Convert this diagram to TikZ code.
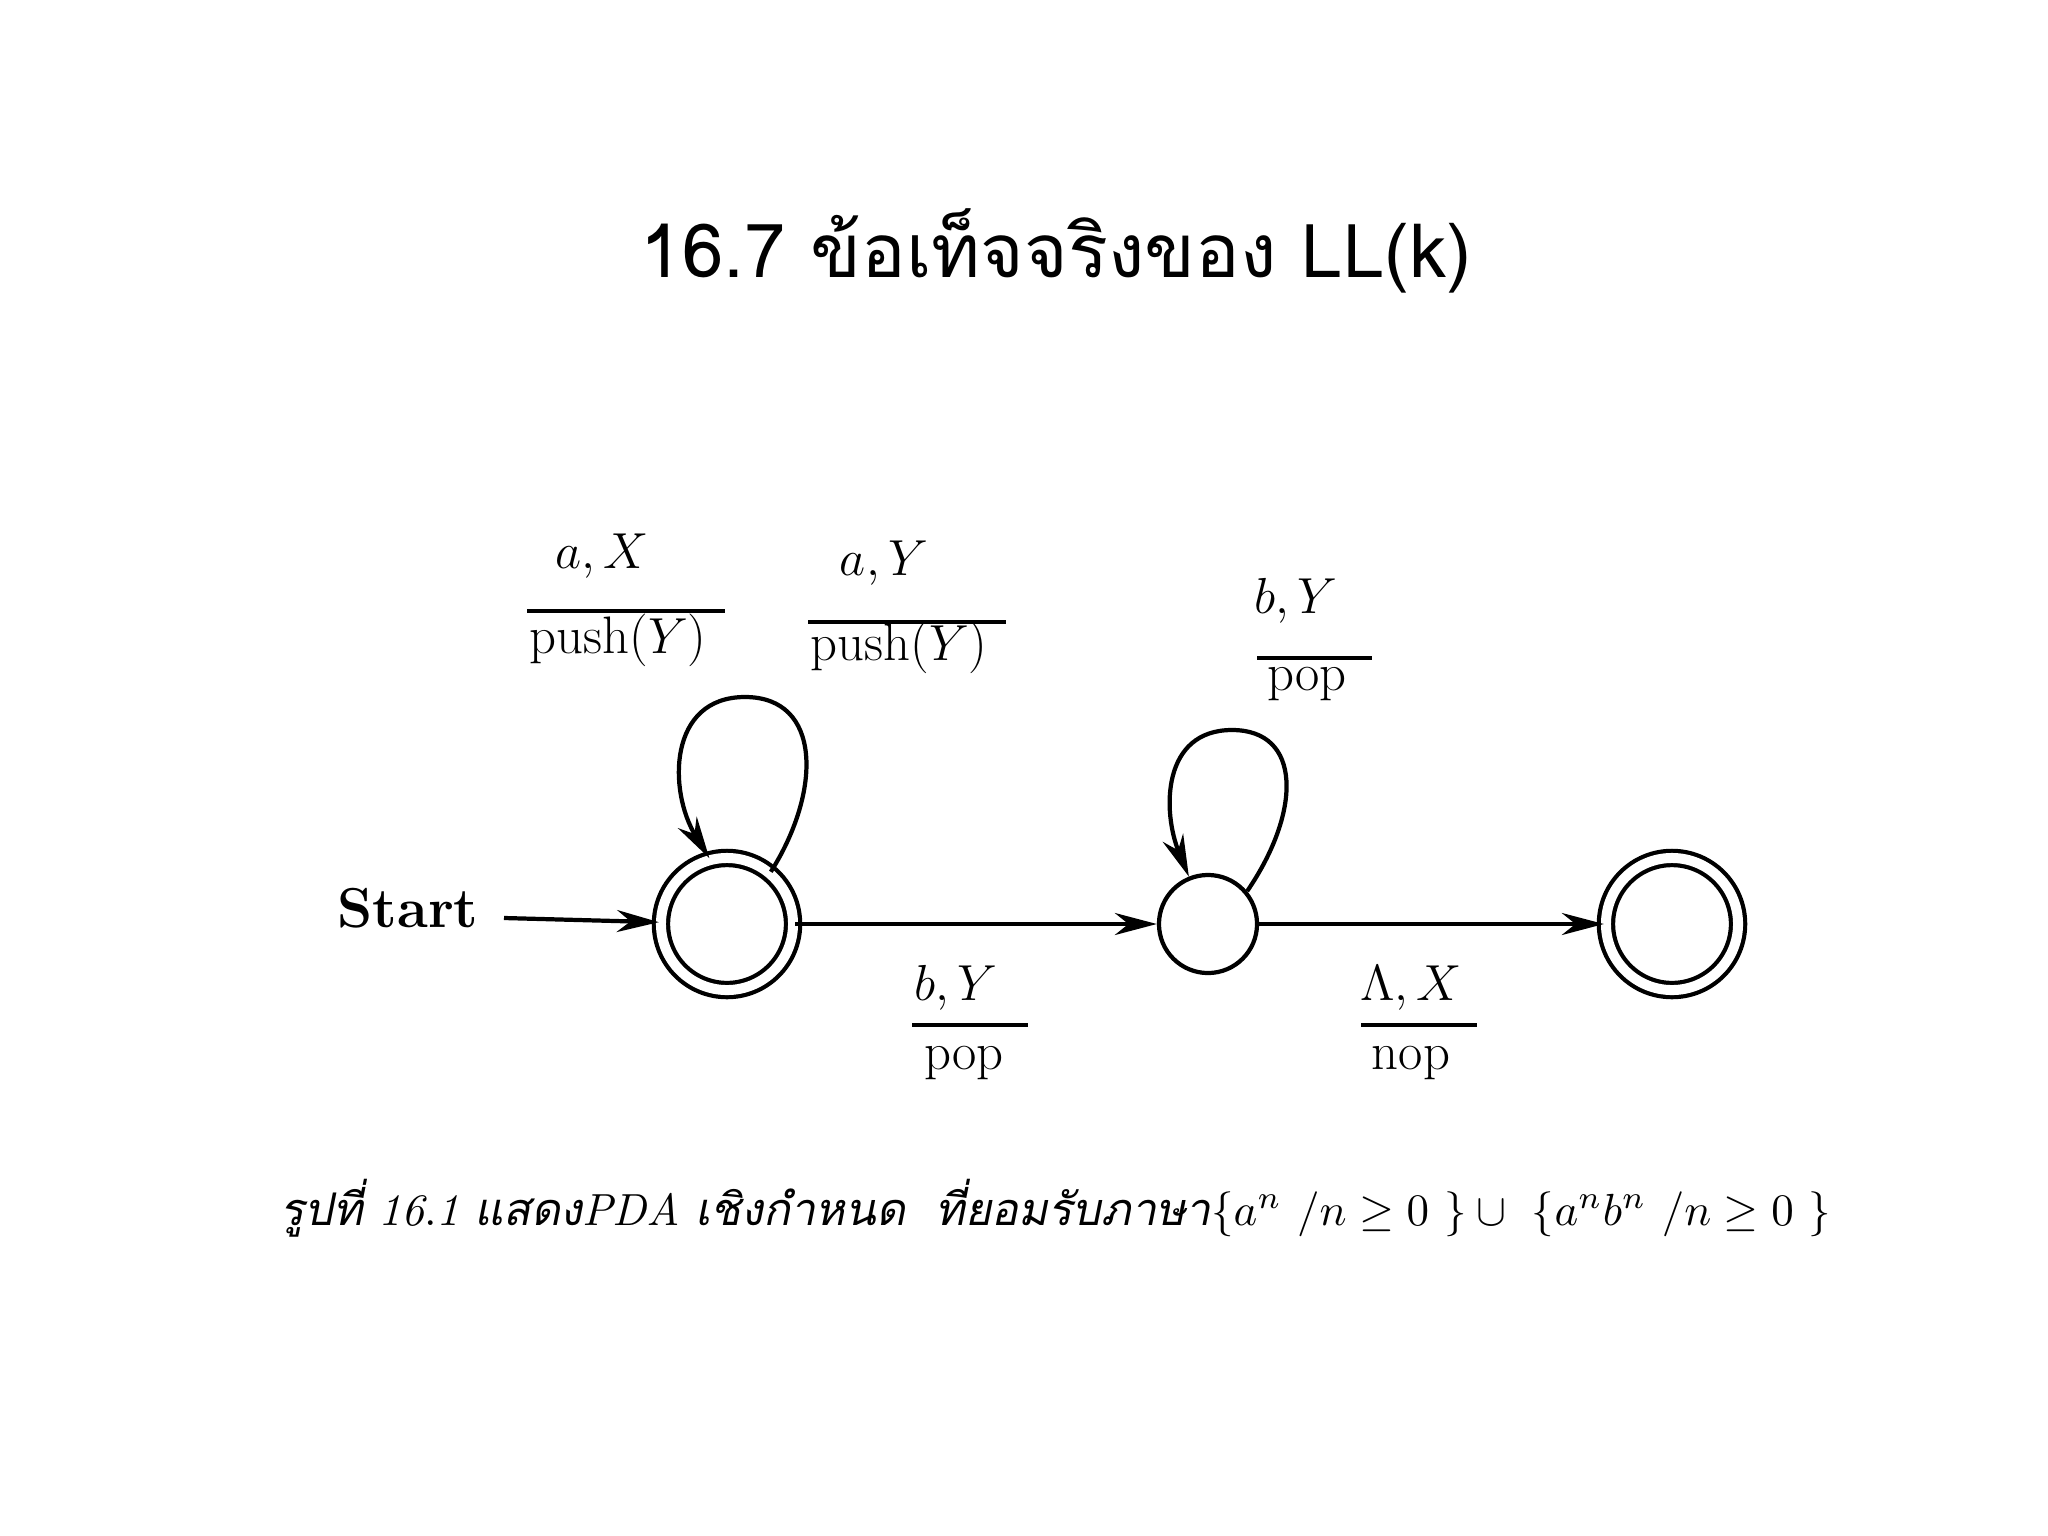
\documentclass[tikz,border=0pt]{standalone}
\usepackage{fontspec}
\usetikzlibrary{arrows.meta}
\newfontfamily\thaifont[Script=Thai]{Loma}
\newfontfamily\thaislant[Script=Thai,FakeSlant=0.2]{Loma}
\begin{document}
\begin{tikzpicture}[x=0.01cm,y=-0.01cm,
  st/.style={circle,draw,line width=1.2pt,minimum size=0.98cm,inner sep=0pt},
  acc/.style={st,double,double distance=0.1cm,minimum size=1.32cm},
  edge/.style={line width=1.2pt,-{Stealth[length=0.42cm,width=0.22cm]}},
  lab/.style={font=\fontsize{15}{17}\selectfont,inner sep=1pt},
  bar/.style={line width=1.3pt}]
\useasboundingbox[fill=white] (0,0) rectangle (2048,1536);
\node[font=\thaifont] (title) at (1056,251) {\resizebox{8.3cm}{!}{16.7 ข้อเท็จจริงของ LL(k)}};
\begin{scope}[shift={(-8,-9)}]
\node[acc] (q0) at (735,933) {};
\node[st] (q1) at (1216,933) {};
\node[acc] (q2) at (1680,933) {};
\node[font=\fontsize{16}{18}\selectfont\bfseries] (start) at (416,917) {Start};
\coordinate (s0) at (512,927);
\draw[edge] (s0) -- (q0);
\draw[edge] (q0) -- (q1);
\draw[edge] (q1) -- (q2);
\draw[edge] (q0.50) .. controls (830,800) and (830,706) .. (753,706) .. controls (676,706) and (676,800) .. (q0.105);
\draw[edge] (q1.40) .. controls (1310,820) and (1310,739) .. (1240,739) .. controls (1170,739) and (1170,820) .. (q1.112);
\node[lab] (l1) at (610,565) {$a,X$};
\draw[bar] (535,620) -- (733,620);
\node[lab] (l1b) at (626,649) {push($Y$)};
\node[lab] (l2) at (892,572) {$a,Y$};
\draw[bar] (816,631) -- (1014,631);
\node[lab] (l2b) at (907,656) {push($Y$)};
\node[lab] (l3) at (1304,610) {$b,Y$};
\draw[bar] (1265,667) -- (1380,667);
\node[lab] (l3b) at (1315,693) {pop};
\node[lab] (l4) at (964,997) {$b,Y$};
\draw[bar] (920,1034) -- (1036,1034);
\node[lab] (l4b) at (972,1072) {pop};
\node[lab] (l5) at (1419,997) {$\Lambda,X$};
\draw[bar] (1369,1034) -- (1485,1034);
\node[lab] (l5b) at (1419,1072) {nop};
\end{scope}
\node (cap) at (1056,1208) {\resizebox{15.5cm}{!}{\thaislant รูปที่ $\mathit{16.1}$ แสดง$\mathit{PDA}$ เชิงกำหนด\ \ ที่ยอมรับภาษา$\{a^n\ /n\geq 0\ \}\cup\ \{a^nb^n\ /n\geq 0\ \}$}};
\end{tikzpicture}
\end{document}
